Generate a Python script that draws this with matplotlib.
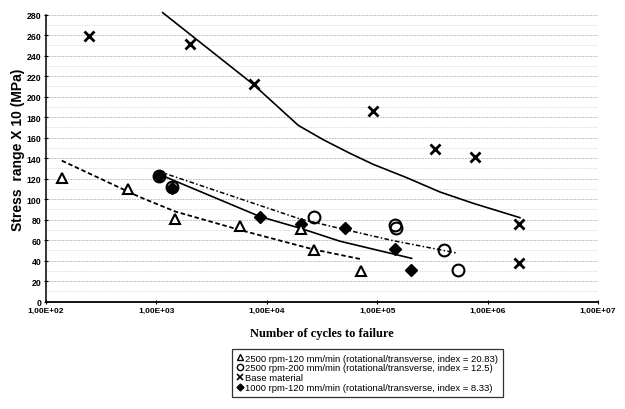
import matplotlib
matplotlib.use("Agg")
import matplotlib.pyplot as plt
from matplotlib.lines import Line2D
from matplotlib.ticker import MultipleLocator, FixedLocator, NullLocator

# ---- data ----
tri_N = [139, 557, 1480, 5700, 20500, 26500, 72000]
tri_S = [121, 110, 81, 74, 71, 50, 30]

circ_N = [1060, 1380, 26900, 145000, 148000, 400000, 537000]
circ_S = [123, 112, 83, 75, 72, 50, 31]

base_N = [247, 2010, 7600, 92000, 334000, 770000, 1940000, 1940000]
base_S = [259, 251, 212, 186, 149, 141, 76, 38]

dia_N = [1060, 1380, 8700, 20300, 51000, 145000, 202000]
dia_S = [123, 111, 83, 76, 72, 51, 31]

# trend lines
base_line_N = [1140, 7550, 19300, 32500, 56800, 92000, 185000, 371000, 740000, 1960000]
base_line_S = [282, 212, 172, 158, 144.7, 134, 121, 107, 96, 82]

tri_line_N = [139, 710, 1480, 5700, 26500, 70000]
tri_line_S = [137.6, 102, 88, 70, 51, 41.7]

dia_line_N = [970, 8700, 20300, 46000, 205000]
dia_line_S = [126, 83, 71.5, 59, 42.3]

circ_line_N = [1060, 20000, 46000, 140000, 525000]
circ_line_S = [127, 80.7, 71.5, 59.5, 47.5]

x_ticks = [1e2, 1e3, 1e4, 1e5, 1e6, 1e7]
x_tick_labels = ["1,00E+02", "1,00E+03", "1,00E+04", "1,00E+05", "1,00E+06", "1,00E+07"]
y_ticks = list(range(0, 281, 20))

legend_labels = [
    "2500 rpm-120 mm/min (rotational/transverse, index = 20.83)",
    "2500 rpm-200 mm/min (rotational/transverse, index = 12.5)",
    "Base material",
    "1000 rpm-120 mm/min (rotational/transverse, index = 8.33)",
]

# ---- figure ----
fig = plt.figure(figsize=(6.25, 4.1), dpi=100)
ax = fig.add_axes([46 / 625, 1 - 302.7 / 410, (598 - 46) / 625, (302.7 - 15.7) / 410])

ax.set_xscale("log")
ax.set_xlim(1e2, 1e7)
ax.set_ylim(0, 280)

# grid
ax.yaxis.set_major_locator(FixedLocator(y_ticks))
ax.yaxis.set_minor_locator(MultipleLocator(10))
ax.grid(axis="y", which="major", color="#b4b4b4", lw=0.6, ls=(0, (2, 1.2)))
ax.grid(axis="y", which="minor", color="#d8d8d8", lw=0.5, ls=(0, (2, 1.2)))
ax.set_axisbelow(True)

# trend lines
ax.plot(base_line_N, base_line_S, color="black", lw=1.2, clip_on=False, zorder=2)
ax.plot(tri_line_N, tri_line_S, color="black", lw=1.3, ls=(0, (2.5, 1.5)), zorder=2)
ax.plot(dia_line_N, dia_line_S, color="black", lw=1.2, zorder=2)
ax.plot(circ_line_N, circ_line_S, color="black", lw=1.1, ls=(0, (3, 1.5, 1, 1.5)), zorder=2)

# points
ax.plot(dia_N, dia_S, ls="none", marker="D", ms=6.5, mfc="black", mec="black", zorder=3)
ax.plot(tri_N, tri_S, ls="none", marker="^", ms=7.5, mfc="white", mec="black", mew=1.5, zorder=4)
ax.plot(circ_N, circ_S, ls="none", marker="o", ms=8.5, mfc="none", mec="black", mew=1.5, zorder=4)
ax.plot(base_N, base_S, ls="none", marker="x", ms=6.5, mec="black", mew=2.0, zorder=4)

# axes styling
for s in ["top", "right"]:
    ax.spines[s].set_visible(False)
ax.spines["left"].set_linewidth(1.1)
ax.spines["bottom"].set_linewidth(1.3)

ax.xaxis.set_major_locator(FixedLocator(x_ticks))
ax.xaxis.set_minor_locator(NullLocator())
ax.set_xticklabels(x_tick_labels, fontsize=6, fontweight="bold", family="Liberation Sans")
ax.set_yticks(y_ticks)
ax.set_yticklabels([str(v) for v in y_ticks], fontsize=6.3, fontweight="bold", family="Liberation Sans")
ax.tick_params(axis="both", which="major", direction="inout", length=3, width=0.8, pad=2)
ax.tick_params(axis="y", which="minor", length=0)

ax.set_ylabel("Stress  range X 10 (MPa)", fontsize=10, fontweight="bold",
              family="Liberation Sans", labelpad=2)
ax.yaxis.set_label_coords(-21 / 552, (302.7 - 150) / 287)
ax.set_xlabel("Number of cycles to failure", fontsize=9, fontweight="bold",
              family="Liberation Serif", labelpad=10)

# legend
handles = [
    Line2D([], [], ls="none", marker="^", ms=4.5, mfc="white", mec="black", mew=1.0),
    Line2D([], [], ls="none", marker="o", ms=4.5, mfc="white", mec="black", mew=1.0),
    Line2D([], [], ls="none", marker="x", ms=4, mec="black", mew=1.2),
    Line2D([], [], ls="none", marker="D", ms=3.5, mfc="black", mec="black"),
]
leg = fig.legend(handles, legend_labels, loc="upper left",
                 bbox_to_anchor=(232 / 625, 1 - 350 / 410),
                 frameon=True, fancybox=False, edgecolor="black",
                 prop={"family": "Liberation Sans", "size": 6.8},
                 handlelength=0.6, handletextpad=0.3, labelspacing=0.08,
                 borderpad=0.5, borderaxespad=0)
leg.get_frame().set_linewidth(0.9)

fig.savefig("out.png", dpi=100)
